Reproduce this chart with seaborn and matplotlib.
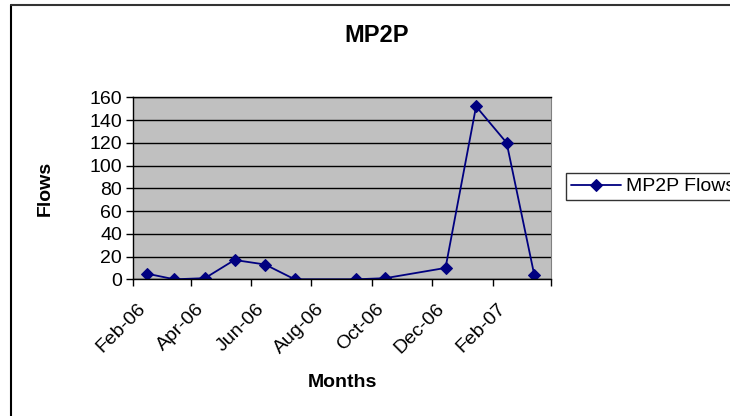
import pandas as pd
import matplotlib.pyplot as plt
import matplotlib.transforms as mtransforms
from matplotlib.lines import Line2D
import seaborn as sns

# data
months = ["2006-02-15", "2006-03-15", "2006-04-15", "2006-05-15", "2006-06-15",
          "2006-07-15", "2006-09-15", "2006-10-15", "2006-12-15", "2007-01-15",
          "2007-02-15", "2007-03-15"]
flows = [5, 0, 1, 17, 13, 0, 0, 1, 10, 152, 120, 4]
tick_dates = ["2006-02-01", "2006-04-01", "2006-06-01", "2006-08-01", "2006-10-01",
              "2006-12-01", "2007-02-01", "2007-04-01"]
tick_labels = ["Feb-06", "Apr-06", "Jun-06", "Aug-06", "Oct-06", "Dec-06", "Feb-07", ""]
y_ticks = [0, 20, 40, 60, 80, 100, 120, 140, 160]

df = pd.DataFrame({"month": pd.to_datetime(months), "flows": flows})

sns.set_style("white")
plt.rcParams["font.family"] = ["Liberation Sans", "DejaVu Sans"]
plt.rcParams["text.color"] = "black"
plt.rcParams["axes.labelcolor"] = "black"
plt.rcParams["xtick.color"] = "black"
plt.rcParams["ytick.color"] = "black"

fig = plt.figure(figsize=(7.30, 4.16), dpi=100)
ax = fig.add_axes([133 / 730, 1 - 279.3 / 416, 418 / 730, 182 / 416])
ax.set_facecolor("#C0C0C0")

sns.lineplot(data=df, x="month", y="flows", ax=ax, color="#000080", marker="D",
             markersize=6, markeredgecolor="#000080", linewidth=1.3, label="MP2P Flows")

ax.set_xlim(pd.Timestamp("2006-02-01"), pd.Timestamp("2007-04-01"))
ax.set_ylim(0, 160)
ax.set_yticks(y_ticks)
ax.set_yticklabels([str(v) for v in y_ticks], fontsize=14)
ax.set_xticks(pd.to_datetime(tick_dates))
ax.set_xticklabels(tick_labels, fontsize=14, rotation=45, ha="right", va="top",
                   rotation_mode="anchor")
ax.tick_params(axis="both", direction="out", length=5, width=1, color="black",
               left=True, bottom=True, pad=3)
ax.tick_params(axis="x", pad=10)
shift = mtransforms.ScaledTranslation(4 / 100, 0, fig.dpi_scale_trans)
for lbl in ax.get_xticklabels():
    lbl.set_transform(lbl.get_transform() + shift)
ax.yaxis.grid(True, color="black", linewidth=1)
ax.xaxis.grid(False)
ax.set_axisbelow(True)

for side in ["left", "bottom", "top"]:
    ax.spines[side].set_color("black")
    ax.spines[side].set_linewidth(1)
ax.spines["right"].set_color("#808080")

ax.set_xlabel("Months", fontsize=14, fontweight="bold")
ax.set_ylabel("Flows", fontsize=14, fontweight="bold")
ax.xaxis.set_label_coords(0.5, -0.52)
ax.yaxis.set_label_coords(-0.19, 0.5)

fig.text(377 / 730, 1 - 35 / 416, "MP2P", fontsize=17, fontweight="bold",
         ha="center", va="center")

leg = ax.legend(loc="upper left", bbox_to_anchor=(566 / 730, 1 - 173 / 416),
                bbox_transform=fig.transFigure, fontsize=14, frameon=True,
                fancybox=False, edgecolor="black", borderpad=0.25,
                handlelength=2.6, handletextpad=0.25, borderaxespad=0)
leg.get_frame().set_linewidth(1)

# chart area border (top and left visible)
fig.add_artist(Line2D([11 / 730, 11 / 730], [0, 1 - 5 / 416], transform=fig.transFigure,
                      color="black", linewidth=1.5))
fig.add_artist(Line2D([11 / 730, 1], [1 - 5 / 416, 1 - 5 / 416], transform=fig.transFigure,
                      color="#333333", linewidth=1.5))

fig.savefig("out.png", dpi=100)
